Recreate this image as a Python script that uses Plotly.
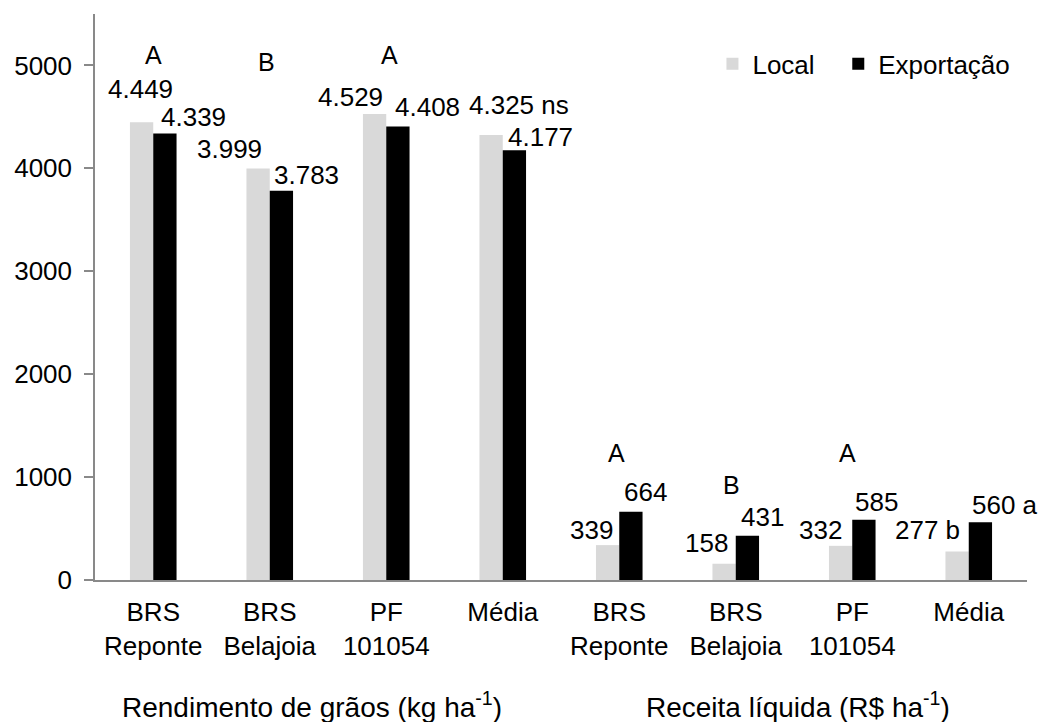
import plotly.graph_objects as go

# ---- data ----
categories = ["BRS<br>Reponte", "BRS<br>Belajoia", "PF<br>101054", "Média",
              "BRS<br>Reponte", "BRS<br>Belajoia", "PF<br>101054", "Média"]
local_vals = [4449, 3999, 4529, 4325, 339, 158, 332, 277]
export_vals = [4339, 3783, 4408, 4177, 664, 431, 585, 560]
local_suffix = ["", "", "", " ns", "", "", "", " b"]
export_suffix = ["", "", "", "", "", "", "", " a"]
letters = ["A", "B", "A", "", "A", "B", "A", ""]
y_ticks = [0, 1000, 2000, 3000, 4000, 5000]
group_titles = ["Rendimento de grãos (kg ha<sup>-1</sup>)", "Receita líquida (R$ ha<sup>-1</sup>)"]

# ---- label placement (pixels, relative to category centre / bar top) ----
local_dx = [-13, -40, -36, 16, -28, -29, -32, -41]
local_dy = [33, 19, 17, 30, 15, 21, 16, 21]
export_dx = [40, 37, 41, 38, 26, 27, 24, 36]
export_dy = [16, 16, 19, 13, 20, 19, 18, 17]
letter_y = [5100, 5035, 5100, None, 1234, 923, 1234, None]
letter_dx = [0, -3, 3, 0, -3, -4, -5, 0]
title_x = [1.36, 5.53]

FONT = "Liberation Sans, Arial, sans-serif"
FS = 26
LIGHT = "#d9d9d9"
DARK = "#000000"
AXIS = "#898989"


def fmt(v):
    return f"{v:,}".replace(",", ".")


xs = list(range(len(categories)))

fig = go.Figure()
fig.add_trace(go.Bar(x=xs, y=local_vals, name="Local", legend="legend",
                     marker=dict(color=LIGHT, line=dict(width=0))))
fig.add_trace(go.Bar(x=xs, y=export_vals, name="Exportação", legend="legend2",
                     marker=dict(color=DARK, line=dict(width=0))))

ann = []
for i, x in enumerate(xs):
    ann.append(dict(x=x, y=local_vals[i], xref="x", yref="y", text=fmt(local_vals[i]) + local_suffix[i],
                    showarrow=False, xshift=local_dx[i], yshift=local_dy[i], yanchor="middle",
                    font=dict(family=FONT, size=FS, color="black")))
    ann.append(dict(x=x, y=export_vals[i], xref="x", yref="y", text=fmt(export_vals[i]) + export_suffix[i],
                    showarrow=False, xshift=export_dx[i], yshift=export_dy[i], yanchor="middle",
                    font=dict(family=FONT, size=FS, color="black")))
    if letters[i]:
        ann.append(dict(x=x, y=letter_y[i], xref="x", yref="y", text=letters[i], showarrow=False,
                        xshift=letter_dx[i], yanchor="middle",
                        font=dict(family=FONT, size=FS - 1, color="black")))
for tx, tt in zip(title_x, group_titles):
    ann.append(dict(x=tx, y=-0.221, xref="x", yref="paper", text=tt, showarrow=False,
                    yanchor="middle", font=dict(family=FONT, size=28, color="black")))

legend_style = dict(orientation="h", y=0.912, xanchor="left", yanchor="middle",
                    font=dict(family=FONT, size=FS, color="black"), itemwidth=30,
                    bgcolor="rgba(0,0,0,0)")

fig.update_layout(
    width=1043, height=722,
    margin=dict(l=95, r=16, t=14, b=142, autoexpand=False),
    paper_bgcolor="white", plot_bgcolor="white",
    barmode="group", bargap=0.6, bargroupgap=0,
    font=dict(family=FONT, size=FS, color="black"),
    showlegend=True,
    legend=dict(x=0.6625, **legend_style),
    legend2=dict(x=0.7975, **legend_style),
    annotations=ann,
)
fig.update_xaxes(range=[-0.5, 7.5], tickvals=xs, ticktext=categories, showline=True,
                 linecolor=AXIS, linewidth=1.5, ticks="", showgrid=False, zeroline=False,
                 ticklabelstandoff=8, tickfont=dict(family=FONT, size=FS, color="black"))
fig.update_yaxes(range=[0, 5500], tickvals=y_ticks, showline=True, linecolor=AXIS, linewidth=1.5,
                 ticks="outside", ticklen=9, tickwidth=1.5, tickcolor=AXIS, showgrid=False,
                 zeroline=False, ticklabelstandoff=7,
                 tickfont=dict(family=FONT, size=FS, color="black"))

fig.write_html("out.html", config={"displayModeBar": False})

# remove the browser's default page margin so the figure sits at the window origin
with open("out.html", encoding="utf-8") as f:
    html = f.read()
html = html.replace("<body>", '<body style="margin:0;padding:0;">', 1)
with open("out.html", "w", encoding="utf-8") as f:
    f.write(html)
